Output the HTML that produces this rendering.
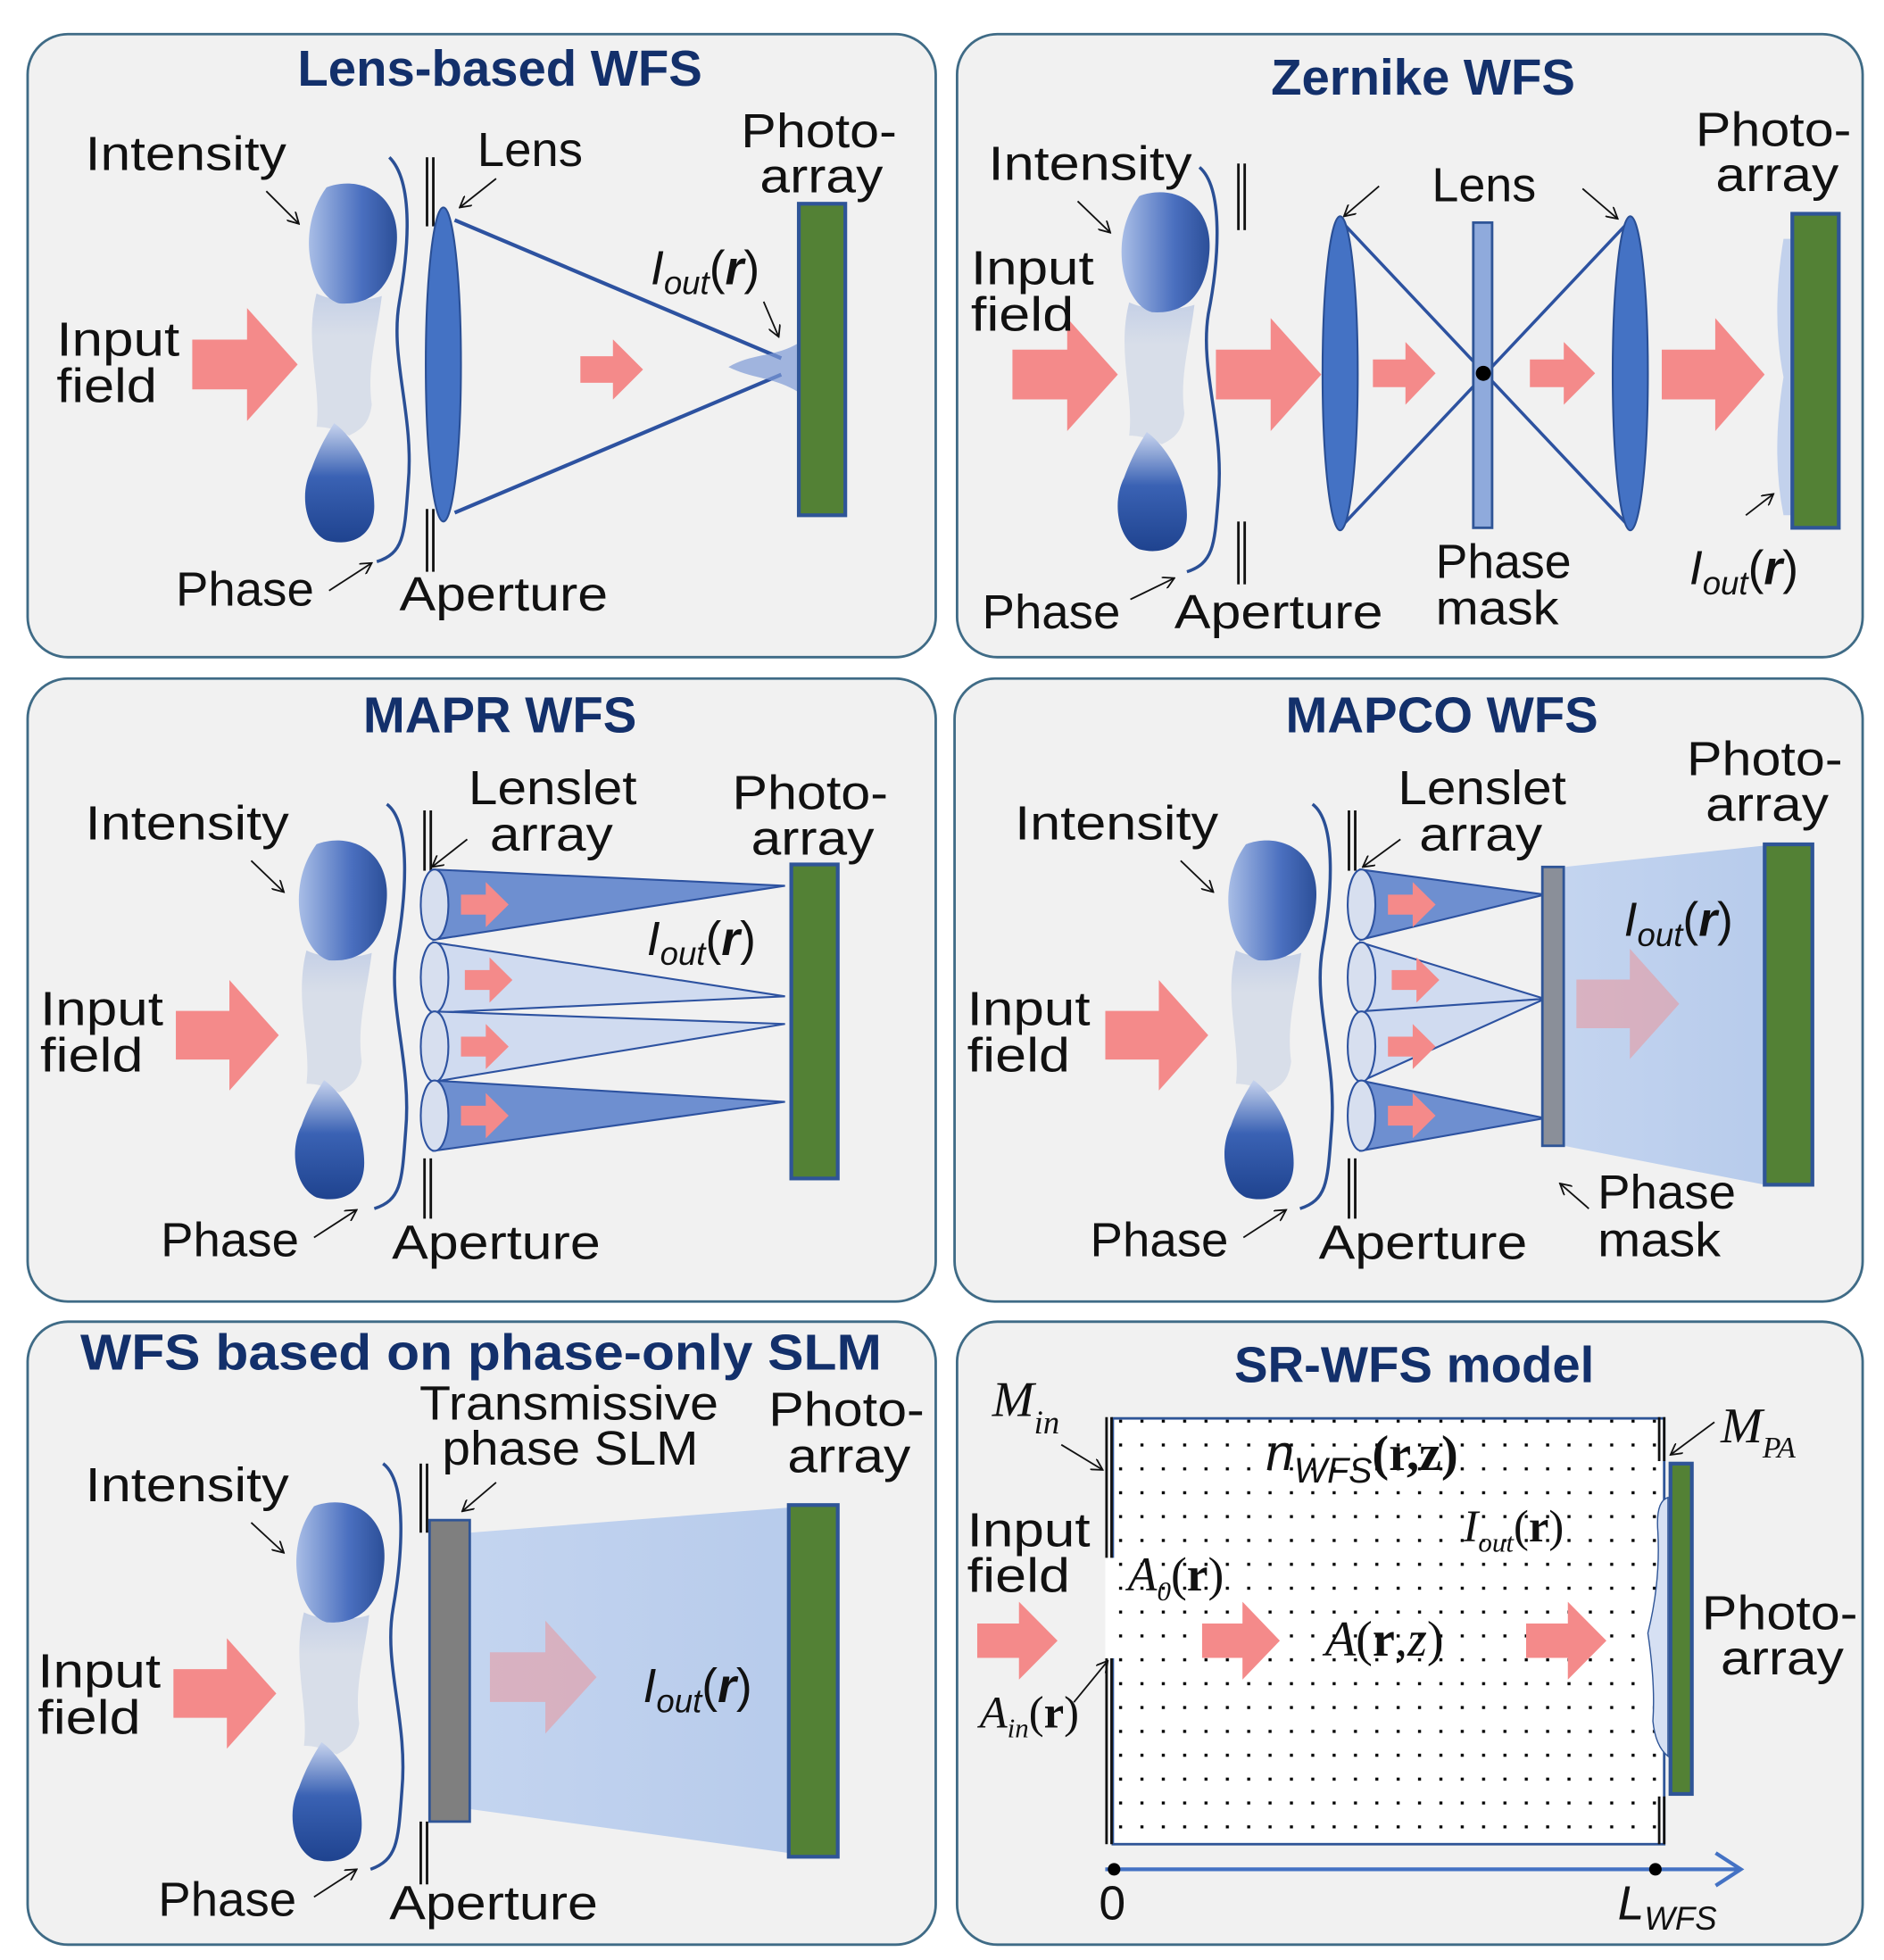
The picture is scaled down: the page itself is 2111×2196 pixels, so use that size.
<!DOCTYPE html>
<html><head><meta charset="utf-8"><style>
html,body{margin:0;padding:0;background:#fff;}
svg{display:block;}
text{font-family:"Liberation Sans",sans-serif;fill:#111;}
.t{font-weight:bold;fill:#13306b;font-size:40px;}
.l{font-size:38px;}
.m{font-family:"Liberation Serif",serif;font-style:italic;}
</style></head><body>
<svg width="2111" height="2196" viewBox="0 0 1500 1560" xmlns="http://www.w3.org/2000/svg">
<defs>
<linearGradient id="gi" x1="0" y1="0" x2="1" y2="0"><stop offset="0" stop-color="#a8bde6"/><stop offset="0.6" stop-color="#4a6fbf"/><stop offset="1" stop-color="#2c4f98"/></linearGradient>
<linearGradient id="gp" x1="0" y1="0" x2="0" y2="1"><stop offset="0" stop-color="#c8d4ee"/><stop offset="0.45" stop-color="#3a62b4"/><stop offset="1" stop-color="#1f438f"/></linearGradient>
<linearGradient id="gm" x1="0" y1="0" x2="0" y2="1"><stop offset="0" stop-color="#c5d0e6"/><stop offset="0.3" stop-color="#d8dee9"/><stop offset="1" stop-color="#d8dee9"/></linearGradient>
<linearGradient id="gb" x1="0" y1="0" x2="1" y2="0"><stop offset="0" stop-color="#b8cdef"/><stop offset="1" stop-color="#a9c2ea"/></linearGradient>
<symbol id="arr" viewBox="0 0 100 100" preserveAspectRatio="none"><polygon points="0,28 52,28 52,0 100,50 52,100 52,72 0,72" fill="#f48a8a"/></symbol>
<symbol id="blob" viewBox="0 0 80 295" preserveAspectRatio="none">
<path d="M14,90 C30,98 55,96 66,92 C62,125 54,150 58,180 C56,195 50,200 40,205 C30,200 22,198 14,198 C18,165 4,130 14,90Z" fill="url(#gm)"/>
<path d="M22,4 C48,-6 80,8 78,48 C76,82 60,100 32,98 C10,92 -4,40 22,4Z" fill="url(#gi)"/>
<path d="M28,195 C42,205 60,232 60,262 C60,288 40,295 22,290 C5,282 0,252 10,232 C16,215 22,205 28,195Z" fill="url(#gp)"/>
</symbol>
<pattern id="dots" x="0" y="0" width="17" height="19" patternUnits="userSpaceOnUse"><rect x="7" y="9" width="2.4" height="2.4" fill="#000"/></pattern>
<marker id="ah" markerWidth="10" markerHeight="10" refX="9" refY="5" orient="auto" markerUnits="userSpaceOnUse"><path d="M0,0 L9,5 L0,10" fill="none" stroke="#111" stroke-width="1.3"/></marker>
</defs>
<rect width="1500" height="1560" fill="#fff"/>
<g fill="#f1f1f1" stroke="#3f6b86" stroke-width="2">
<rect x="22" y="27" width="723" height="496" rx="32"/>
<rect x="762" y="27" width="721" height="496" rx="32"/>
<rect x="22" y="540" width="723" height="496" rx="32"/>
<rect x="760" y="540" width="723" height="496" rx="32"/>
<rect x="22" y="1052" width="723" height="496" rx="32"/>
<rect x="762" y="1052" width="721" height="496" rx="32"/>
</g>
<g stroke="#111" stroke-width="1.3" fill="none" marker-end="url(#ah)">
<line x1="212" y1="152" x2="238" y2="178"/><line x1="395" y1="142" x2="366" y2="165"/><line x1="608" y1="240" x2="620" y2="268"/><line x1="262" y1="470" x2="296" y2="448"/>
<line x1="858" y1="160" x2="884" y2="185"/><line x1="1098" y1="148" x2="1070" y2="172"/><line x1="1260" y1="150" x2="1288" y2="174"/><line x1="900" y1="477" x2="935" y2="460"/><line x1="1390" y1="410" x2="1412" y2="393"/>
<line x1="200" y1="685" x2="226" y2="710"/><line x1="372" y1="668" x2="344" y2="690"/><line x1="250" y1="985" x2="284" y2="963"/>
<line x1="940" y1="685" x2="966" y2="710"/><line x1="1115" y1="668" x2="1085" y2="690"/><line x1="990" y1="985" x2="1024" y2="963"/><line x1="1265" y1="962" x2="1242" y2="942"/>
<line x1="200" y1="1212" x2="226" y2="1236"/><line x1="395" y1="1180" x2="368" y2="1203"/><line x1="250" y1="1510" x2="284" y2="1488"/>
<line x1="845" y1="1150" x2="878" y2="1170"/><line x1="1365" y1="1132" x2="1330" y2="1158"/><line x1="1275" y1="1215" x2="1312" y2="1228"/><line x1="910" y1="1270" x2="893" y2="1310"/><line x1="855" y1="1355" x2="882" y2="1322"/>
</g>
<text class="t" x="398" y="68" text-anchor="middle">Lens-based WFS</text>
<use href="#blob" x="238" y="145" width="80" height="290"/>
<path d="M310,125 C330,145 325,200 318,240 C310,285 330,330 325,385 C322,425 322,440 300,447" fill="none" stroke="#2a4f95" stroke-width="2.5"/>
<rect x="339" y="125" width="2" height="55" fill="#111"/><rect x="344" y="125" width="2" height="55" fill="#111"/>
<rect x="339" y="405" width="2" height="50" fill="#111"/><rect x="344" y="405" width="2" height="50" fill="#111"/>
<ellipse cx="353" cy="290" rx="14" ry="125" fill="#4472c4" stroke="#2a4f95" stroke-width="1.5"/>
<path d="M362,175 L622,285 M362,408 L622,298" stroke="#2d52a0" stroke-width="3" fill="none"/>
<path d="M580,292 C600,280 620,285 640,270 L640,315 C620,300 600,302 580,292Z" fill="#7d9ad6" opacity="0.7"/>
<rect x="636" y="162" width="37" height="248" fill="#538135" stroke="#2f5597" stroke-width="3"/>
<use href="#arr" x="153" y="245" width="84" height="90"/><use href="#arr" x="462" y="270" width="50" height="48"/>
<text class="l" x="68" y="135" textLength="160" lengthAdjust="spacingAndGlyphs">Intensity</text>
<text class="l" x="380" y="132" textLength="84" lengthAdjust="spacingAndGlyphs">Lens</text>
<text class="l" x="590" y="117" textLength="124" lengthAdjust="spacingAndGlyphs">Photo-</text>
<text class="l" x="605" y="153" textLength="98" lengthAdjust="spacingAndGlyphs">array</text>
<text class="l" x="45" y="283" textLength="98" lengthAdjust="spacingAndGlyphs">Input</text>
<text class="l" x="45" y="320" textLength="80" lengthAdjust="spacingAndGlyphs">field</text>
<text class="l" x="518" y="226"><tspan font-style="italic">I</tspan><tspan font-size="26" dy="8" font-style="italic">out</tspan><tspan dy="-8">(</tspan><tspan font-weight="bold" font-style="italic">r</tspan>)</text>
<text class="l" x="140" y="482" textLength="110" lengthAdjust="spacingAndGlyphs">Phase</text>
<text class="l" x="318" y="486" textLength="166" lengthAdjust="spacingAndGlyphs">Aperture</text>

<text class="t" x="1133" y="75" text-anchor="middle">Zernike WFS</text>
<use href="#blob" x="885" y="152" width="80" height="290"/>
<path d="M955,133 C975,150 970,210 962,250 C955,295 975,340 970,395 C967,432 967,448 945,455" fill="none" stroke="#2a4f95" stroke-width="2.5"/>
<rect x="985" y="130" width="2" height="53" fill="#111"/><rect x="990" y="130" width="2" height="53" fill="#111"/>
<rect x="985" y="415" width="2" height="50" fill="#111"/><rect x="990" y="415" width="2" height="50" fill="#111"/>
<path d="M1067,175 L1298,420 M1067,420 L1298,175" stroke="#2d52a0" stroke-width="2.5"/>
<ellipse cx="1067" cy="297" rx="14" ry="125" fill="#4472c4" stroke="#2a4f95" stroke-width="1.5"/>
<ellipse cx="1298" cy="297" rx="14" ry="125" fill="#4472c4" stroke="#2a4f95" stroke-width="1.5"/>
<rect x="1173" y="177" width="15" height="243" fill="#8faadc" stroke="#2f5597" stroke-width="2"/>
<circle cx="1181" cy="297" r="6" fill="#000"/>
<path d="M1420,190 Q1410,250 1420,300 Q1410,360 1420,410 L1427,410 L1427,190Z" fill="#aec3ea" opacity="0.7"/>
<rect x="1427" y="170" width="37" height="250" fill="#538135" stroke="#2f5597" stroke-width="3"/>
<use href="#arr" x="806" y="253" width="84" height="90"/><use href="#arr" x="968" y="253" width="84" height="90"/>
<use href="#arr" x="1093" y="272" width="50" height="50"/><use href="#arr" x="1218" y="272" width="52" height="50"/>
<use href="#arr" x="1323" y="253" width="82" height="90"/>
<text class="l" x="787" y="143" textLength="162" lengthAdjust="spacingAndGlyphs">Intensity</text>
<text class="l" x="773" y="226" textLength="98" lengthAdjust="spacingAndGlyphs">Input</text>
<text class="l" x="773" y="263" textLength="82" lengthAdjust="spacingAndGlyphs">field</text>
<text class="l" x="1140" y="160" textLength="83" lengthAdjust="spacingAndGlyphs">Lens</text>
<text class="l" x="1350" y="116" textLength="124" lengthAdjust="spacingAndGlyphs">Photo-</text>
<text class="l" x="1366" y="152" textLength="98" lengthAdjust="spacingAndGlyphs">array</text>
<text class="l" x="1143" y="460" textLength="108" lengthAdjust="spacingAndGlyphs">Phase</text>
<text class="l" x="1143" y="497" textLength="98" lengthAdjust="spacingAndGlyphs">mask</text>
<text class="l" x="1345" y="465"><tspan font-style="italic">I</tspan><tspan font-size="26" dy="8" font-style="italic">out</tspan><tspan dy="-8">(</tspan><tspan font-weight="bold" font-style="italic">r</tspan>)</text>
<text class="l" x="782" y="500" textLength="110" lengthAdjust="spacingAndGlyphs">Phase</text>
<text class="l" x="935" y="500" textLength="166" lengthAdjust="spacingAndGlyphs">Aperture</text>

<text class="t" x="398" y="583" text-anchor="middle">MAPR WFS</text>
<use href="#blob" x="230" y="668" width="80" height="290"/>
<path d="M308,640 C328,655 323,715 316,755 C308,800 328,845 323,900 C320,940 320,955 298,962" fill="none" stroke="#2a4f95" stroke-width="2.5"/>
<rect x="337" y="645" width="2" height="48" fill="#111"/><rect x="342" y="645" width="2" height="48" fill="#111"/>
<rect x="337" y="922" width="2" height="48" fill="#111"/><rect x="342" y="922" width="2" height="48" fill="#111"/>
<g stroke="#2d52a0" stroke-width="1.5">
<polygon points="345,692 625,705 345,748" fill="#6e8fd0"/>
<polygon points="345,750 625,793 345,806" fill="#d0dbf0"/>
<polygon points="345,805 625,815 345,861" fill="#d0dbf0"/>
<polygon points="345,860 625,877 345,916" fill="#6e8fd0"/>
</g>
<g fill="#d7dfef" stroke="#2d52a0" stroke-width="1.5">
<ellipse cx="346" cy="720" rx="11" ry="28"/><ellipse cx="346" cy="778" rx="11" ry="28"/><ellipse cx="346" cy="833" rx="11" ry="28"/><ellipse cx="346" cy="888" rx="11" ry="28"/>
</g>
<rect x="630" y="688" width="37" height="250" fill="#538135" stroke="#2f5597" stroke-width="3"/>
<use href="#arr" x="140" y="780" width="82" height="88"/>
<use href="#arr" x="367" y="702" width="38" height="36"/><use href="#arr" x="370" y="762" width="38" height="36"/><use href="#arr" x="367" y="815" width="38" height="36"/><use href="#arr" x="367" y="870" width="38" height="36"/>
<text class="l" x="68" y="668" textLength="162" lengthAdjust="spacingAndGlyphs">Intensity</text>
<text class="l" x="373" y="640" textLength="134" lengthAdjust="spacingAndGlyphs">Lenslet</text>
<text class="l" x="390" y="677" textLength="98" lengthAdjust="spacingAndGlyphs">array</text>
<text class="l" x="583" y="644" textLength="124" lengthAdjust="spacingAndGlyphs">Photo-</text>
<text class="l" x="598" y="680" textLength="98" lengthAdjust="spacingAndGlyphs">array</text>
<text class="l" x="32" y="816" textLength="98" lengthAdjust="spacingAndGlyphs">Input</text>
<text class="l" x="32" y="853" textLength="82" lengthAdjust="spacingAndGlyphs">field</text>
<text class="l" x="515" y="760"><tspan font-style="italic">I</tspan><tspan font-size="26" dy="8" font-style="italic">out</tspan><tspan dy="-8">(</tspan><tspan font-weight="bold" font-style="italic">r</tspan>)</text>
<text class="l" x="128" y="1000" textLength="110" lengthAdjust="spacingAndGlyphs">Phase</text>
<text class="l" x="312" y="1002" textLength="166" lengthAdjust="spacingAndGlyphs">Aperture</text>

<text class="t" x="1148" y="583" text-anchor="middle">MAPCO WFS</text>
<use href="#blob" x="970" y="668" width="80" height="290"/>
<path d="M1045,640 C1065,655 1060,715 1053,755 C1045,800 1065,845 1060,900 C1057,940 1057,955 1035,962" fill="none" stroke="#2a4f95" stroke-width="2.5"/>
<rect x="1073" y="645" width="2" height="48" fill="#111"/><rect x="1078" y="645" width="2" height="48" fill="#111"/>
<rect x="1073" y="922" width="2" height="48" fill="#111"/><rect x="1078" y="922" width="2" height="48" fill="#111"/>
<polygon points="1245,690 1405,673 1405,943 1245,912" fill="url(#gb)" opacity="0.8"/>
<g stroke="#2d52a0" stroke-width="1.5">
<polygon points="1083,692 1230,712 1083,748" fill="#6e8fd0"/>
<polygon points="1083,750 1230,795 1083,806" fill="#d0dbf0"/>
<polygon points="1083,805 1230,795 1083,861" fill="#d0dbf0"/>
<polygon points="1083,860 1230,890 1083,916" fill="#6e8fd0"/>
</g>
<g fill="#d7dfef" stroke="#2d52a0" stroke-width="1.5">
<ellipse cx="1084" cy="720" rx="11" ry="28"/><ellipse cx="1084" cy="778" rx="11" ry="28"/><ellipse cx="1084" cy="833" rx="11" ry="28"/><ellipse cx="1084" cy="888" rx="11" ry="28"/>
</g>
<rect x="1228" y="690" width="17" height="222" fill="#8a8f99" stroke="#2f5597" stroke-width="2"/>
<rect x="1405" y="672" width="38" height="271" fill="#538135" stroke="#2f5597" stroke-width="3"/>
<use href="#arr" x="880" y="780" width="82" height="88"/>
<use href="#arr" x="1105" y="702" width="38" height="36"/><use href="#arr" x="1108" y="762" width="38" height="36"/><use href="#arr" x="1105" y="815" width="38" height="36"/><use href="#arr" x="1105" y="870" width="38" height="36"/>
<use href="#arr" x="1255" y="755" width="82" height="88" opacity="0.45"/>
<text class="l" x="808" y="668" textLength="162" lengthAdjust="spacingAndGlyphs">Intensity</text>
<text class="l" x="1113" y="640" textLength="134" lengthAdjust="spacingAndGlyphs">Lenslet</text>
<text class="l" x="1130" y="677" textLength="98" lengthAdjust="spacingAndGlyphs">array</text>
<text class="l" x="1343" y="617" textLength="124" lengthAdjust="spacingAndGlyphs">Photo-</text>
<text class="l" x="1358" y="653" textLength="98" lengthAdjust="spacingAndGlyphs">array</text>
<text class="l" x="770" y="816" textLength="98" lengthAdjust="spacingAndGlyphs">Input</text>
<text class="l" x="770" y="853" textLength="82" lengthAdjust="spacingAndGlyphs">field</text>
<text class="l" x="1293" y="745"><tspan font-style="italic">I</tspan><tspan font-size="26" dy="8" font-style="italic">out</tspan><tspan dy="-8">(</tspan><tspan font-weight="bold" font-style="italic">r</tspan>)</text>
<text class="l" x="1272" y="962" textLength="110" lengthAdjust="spacingAndGlyphs">Phase</text>
<text class="l" x="1272" y="1000" textLength="98" lengthAdjust="spacingAndGlyphs">mask</text>
<text class="l" x="868" y="1000" textLength="110" lengthAdjust="spacingAndGlyphs">Phase</text>
<text class="l" x="1050" y="1002" textLength="166" lengthAdjust="spacingAndGlyphs">Aperture</text>

<text class="t" x="383" y="1090" text-anchor="middle" textLength="638" lengthAdjust="spacingAndGlyphs">WFS based on phase-only SLM</text>
<use href="#blob" x="228" y="1195" width="80" height="290"/>
<path d="M305,1165 C325,1180 320,1240 313,1280 C305,1325 325,1370 320,1425 C317,1465 317,1480 295,1488" fill="none" stroke="#2a4f95" stroke-width="2.5"/>
<rect x="334" y="1165" width="2" height="55" fill="#111"/><rect x="339" y="1165" width="2" height="55" fill="#111"/>
<rect x="334" y="1450" width="2" height="50" fill="#111"/><rect x="339" y="1450" width="2" height="50" fill="#111"/>
<polygon points="374,1220 628,1200 628,1475 374,1440" fill="url(#gb)" opacity="0.8"/>
<rect x="342" y="1210" width="32" height="240" fill="#7f7f7f" stroke="#2f5597" stroke-width="2"/>
<rect x="628" y="1198" width="39" height="280" fill="#538135" stroke="#2f5597" stroke-width="3"/>
<use href="#arr" x="138" y="1304" width="82" height="88"/>
<use href="#arr" x="390" y="1290" width="85" height="90" opacity="0.45"/>
<text class="l" x="334" y="1130" textLength="238" lengthAdjust="spacingAndGlyphs">Transmissive</text>
<text class="l" x="352" y="1166" textLength="204" lengthAdjust="spacingAndGlyphs">phase SLM</text>
<text class="l" x="612" y="1135" textLength="124" lengthAdjust="spacingAndGlyphs">Photo-</text>
<text class="l" x="627" y="1172" textLength="98" lengthAdjust="spacingAndGlyphs">array</text>
<text class="l" x="68" y="1195" textLength="162" lengthAdjust="spacingAndGlyphs">Intensity</text>
<text class="l" x="30" y="1343" textLength="98" lengthAdjust="spacingAndGlyphs">Input</text>
<text class="l" x="30" y="1380" textLength="82" lengthAdjust="spacingAndGlyphs">field</text>
<text class="l" x="512" y="1355"><tspan font-style="italic">I</tspan><tspan font-size="26" dy="8" font-style="italic">out</tspan><tspan dy="-8">(</tspan><tspan font-weight="bold" font-style="italic">r</tspan>)</text>
<text class="l" x="126" y="1525" textLength="110" lengthAdjust="spacingAndGlyphs">Phase</text>
<text class="l" x="310" y="1528" textLength="166" lengthAdjust="spacingAndGlyphs">Aperture</text>

<text class="t" x="1126" y="1100" text-anchor="middle">SR-WFS model</text>
<rect x="886" y="1129" width="439" height="339" fill="#fff"/>
<rect x="886" y="1129" width="439" height="339" fill="url(#dots)" stroke="#2f5597" stroke-width="2"/>
<rect x="880" y="1240" width="8" height="80" fill="#fff"/>
<rect x="880" y="1128" width="2" height="112" fill="#111"/><rect x="884" y="1128" width="2" height="112" fill="#111"/>
<rect x="880" y="1320" width="2" height="148" fill="#111"/><rect x="884" y="1320" width="2" height="148" fill="#111"/>
<rect x="1320" y="1128" width="2" height="35" fill="#111"/><rect x="1324" y="1128" width="2" height="35" fill="#111"/>
<rect x="1320" y="1430" width="2" height="38" fill="#111"/><rect x="1324" y="1430" width="2" height="38" fill="#111"/>
<path d="M1328,1192 Q1318,1195 1320,1220 Q1322,1260 1312,1300 Q1318,1340 1316,1370 Q1318,1390 1328,1398Z" fill="#d6e0f3" stroke="#2f5597" stroke-width="1"/>
<rect x="1330" y="1165" width="17" height="263" fill="#538135" stroke="#2f5597" stroke-width="3"/>
<line x1="880" y1="1488" x2="1385" y2="1488" stroke="#4472c4" stroke-width="3"/>
<path d="M1366,1475 L1386,1488 L1366,1501" fill="none" stroke="#4472c4" stroke-width="3"/>
<circle cx="887" cy="1488" r="5" fill="#000"/><circle cx="1318" cy="1488" r="5" fill="#000"/>
<use href="#arr" x="778" y="1275" width="64" height="62"/><use href="#arr" x="957" y="1275" width="62" height="62"/><use href="#arr" x="1215" y="1275" width="64" height="62"/>
<text class="l" x="770" y="1231" textLength="98" lengthAdjust="spacingAndGlyphs">Input</text>
<text class="l" x="770" y="1267" textLength="82" lengthAdjust="spacingAndGlyphs">field</text>
<text class="l" x="1355" y="1297" textLength="124" lengthAdjust="spacingAndGlyphs">Photo-</text>
<text class="l" x="1370" y="1333" textLength="98" lengthAdjust="spacingAndGlyphs">array</text>
<text class="m" x="790" y="1127" font-size="40">M<tspan font-size="26" dy="14">in</tspan></text>
<text class="m" x="1370" y="1148" font-size="40">M<tspan font-size="24" dy="12">PA</tspan></text>
<text x="1008" y="1170" font-size="40"><tspan font-style="italic">n</tspan><tspan font-style="italic" font-size="28" dy="10">WFS</tspan><tspan dy="-10" font-family="Liberation Serif" font-weight="bold">(r,z)</tspan></text>
<text class="m" x="1165" y="1227" font-size="36">I<tspan font-size="22" dy="8">out</tspan><tspan dy="-8" font-style="normal">(<tspan font-weight="bold">r</tspan>)</tspan></text>
<text class="m" x="898" y="1266" font-size="38">A<tspan font-size="22" dy="8">0</tspan><tspan dy="-8" font-style="normal">(<tspan font-weight="bold">r</tspan>)</tspan></text>
<text class="m" x="780" y="1375" font-size="36">A<tspan font-size="22" dy="8">in</tspan><tspan dy="-8" font-style="normal">(<tspan font-weight="bold">r</tspan>)</tspan></text>
<text class="m" x="1055" y="1318" font-size="40">A<tspan font-style="normal">(<tspan font-weight="bold">r</tspan>,</tspan>z<tspan font-style="normal">)</tspan></text>
<text class="l" x="875" y="1528">0</text>
<text class="l" x="1288" y="1528"><tspan font-style="italic">L</tspan><tspan font-size="26" dy="8" font-style="italic">WFS</tspan></text>
</svg>
</body></html>
